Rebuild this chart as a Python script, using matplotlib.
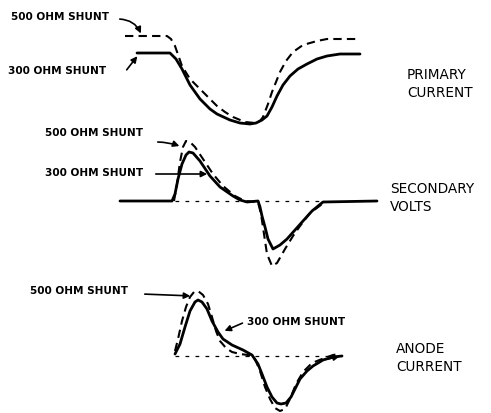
import numpy as np
import matplotlib as mpl
mpl.use('Agg')
import matplotlib.pyplot as plt

# traces in drawing units (x right, y down)
prim_solid_x = [137, 170, 176, 182, 190, 200, 210, 217, 230, 240, 250, 256, 262, 267, 272, 277, 283, 290, 298, 307, 317, 327, 340, 360]
prim_solid_y = [54, 54, 60, 70, 86, 100, 110, 115, 121, 124, 125, 124, 121, 117, 108, 97, 86, 77, 70, 65, 60, 57, 55, 55]
prim_dash_x = [125, 167, 171, 175, 182, 190, 200, 210, 217, 225, 233, 245, 255, 260, 263, 268, 272, 276, 280, 286, 293, 303, 317, 327, 358]
prim_dash_y = [37, 37, 40, 47, 67, 80, 90, 100, 107, 113, 118, 123, 124, 122, 118, 105, 93, 83, 73, 62, 53, 46, 42, 40, 40]

sec_solid_x = [120, 172, 175, 178, 182, 186, 189, 193, 200, 210, 220, 233, 240, 247, 258, 260, 262, 265, 268, 273, 280, 287, 295, 303, 312, 323, 377]
sec_solid_y = [202, 202, 195, 180, 165, 156, 153, 154, 162, 177, 188, 197, 201, 203, 202, 208, 217, 228, 240, 250, 246, 240, 231, 222, 212, 203, 202]
sec_dash_x = [174, 177, 180, 183, 186, 190, 195, 203, 213, 223, 235, 245, 258, 261, 264, 267, 272, 277, 285, 293, 300, 310, 325]
sec_dash_y = [202, 185, 163, 148, 142, 143, 148, 160, 175, 187, 197, 202, 203, 215, 235, 255, 267, 264, 250, 237, 227, 214, 203]
sec_base = [175, 322, 202]

an_solid_x = [175, 180, 185, 190, 195, 198, 202, 207, 212, 218, 223, 232, 243, 252, 258, 262, 267, 272, 277, 281, 286, 291, 296, 300, 307, 313, 323, 333, 342]
an_solid_y = [355, 345, 328, 312, 303, 301, 303, 310, 322, 333, 340, 346, 351, 356, 365, 375, 388, 398, 404, 405, 404, 398, 388, 380, 372, 367, 361, 358, 357]
an_dash_x = [175, 178, 182, 186, 190, 194, 198, 203, 208, 212, 216, 220, 226, 232, 240, 248, 255, 260, 265, 270, 275, 280, 285, 290, 296, 303, 312, 322, 333, 340]
an_dash_y = [352, 340, 322, 308, 298, 293, 292, 296, 305, 318, 332, 342, 349, 353, 355, 356, 360, 372, 388, 400, 409, 412, 410, 400, 385, 373, 364, 360, 356, 355]
an_base = [175, 345, 357]

# shunt labels: text, text x, text y, arrow tail, arrow head, curvature
shunt_labels = [
    ("500 OHM SHUNT", 11, 17, (117, 20), (142, 37), -0.35),
    ("300 OHM SHUNT", 8, 71, (125, 73), (139, 55), 0.0),
    ("500 OHM SHUNT", 45, 133, (155, 143), (182, 148), -0.1),
    ("300 OHM SHUNT", 45, 173, (153, 175), (210, 175), 0.0),
    ("500 OHM SHUNT", 30, 291, (142, 295), (193, 297), 0.0),
    ("300 OHM SHUNT", 247, 322, (245, 323), (222, 333), 0.0),
]
side_labels = [("PRIMARY\nCURRENT", 407, 84), ("SECONDARY\nVOLTS", 390, 198), ("ANODE\nCURRENT", 396, 358)]

fig = plt.figure(figsize=(4.91, 4.14), dpi=100)
ax = fig.add_axes([0, 0, 1, 1])
ax.set_xlim(0, 491)
ax.set_ylim(414, 0)
ax.axis('off')

solid = dict(color='black', lw=2.0, solid_capstyle='round')
dash = dict(color='black', lw=1.5, linestyle=(0, (4, 2.5)))
base = dict(color='black', lw=0.9, linestyle=(0, (3, 5)))

ax.plot(prim_solid_x, prim_solid_y, **solid)
ax.plot(prim_dash_x, prim_dash_y, **dash)
ax.plot(sec_solid_x, sec_solid_y, **solid)
ax.plot(sec_dash_x, sec_dash_y, **dash)
ax.plot(sec_base[:2], [sec_base[2]] * 2, **base)
ax.plot(an_solid_x, an_solid_y, **solid)
ax.plot(an_dash_x, an_dash_y, **dash)
ax.plot(an_base[:2], [an_base[2]] * 2, **base)

# small arrowhead at the tail of the anode trace
ax.annotate('', xy=(an_solid_x[-1], an_solid_y[-1]), xytext=(an_solid_x[-3], an_solid_y[-3]),
            arrowprops=dict(arrowstyle='-|>', color='black', lw=1.2, mutation_scale=8))

for txt, tx, ty, tail, head, rad in shunt_labels:
    ax.text(tx, ty, txt, ha='left', va='center', fontsize=7.6, fontweight='bold', fontfamily='DejaVu Sans')
    ax.annotate('', xy=head, xytext=tail,
                arrowprops=dict(arrowstyle='-|>', color='black', lw=1.2, mutation_scale=9,
                                connectionstyle='arc3,rad=%s' % rad))

for txt, tx, ty in side_labels:
    ax.text(tx, ty, txt, ha='left', va='center', fontsize=9.8, linespacing=1.35,
            fontweight='medium', fontfamily='DejaVu Sans')

plt.savefig('out.png', dpi=100)
